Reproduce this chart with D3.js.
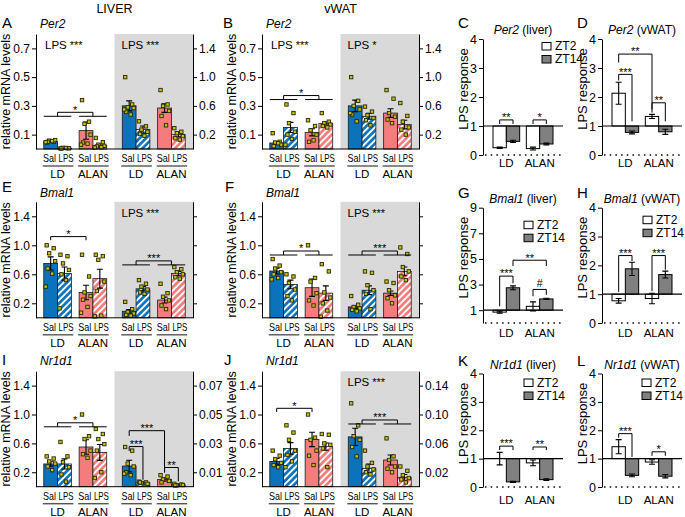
<!DOCTYPE html>
<html><head><meta charset="utf-8">
<script src="https://cdn.jsdelivr.net/npm/d3@7"></script>
<style>body{margin:0;background:#fff}svg{display:block}</style>
</head><body><svg id="c" width="685" height="517"></svg>
<script>
// ================= DATA =================
const groups = ["LD", "ALAN"];
const treatments = ["Sal", "LPS"];
const phases = ["ZT2", "ZT14"];

const per2LeftTicks = [0.1, 0.3, 0.5, 0.7];
const mrnaTicks = [0.2, 0.6, 1.0, 1.4];
const nr1d1LiverRightTicks = [0.01, 0.03, 0.05, 0.07];
const nr1d1VwatRightTicks = [0.02, 0.06, 0.10, 0.14];
const responseTicks = [0, 1, 2, 3, 4];
const bmal1LiverResponseTicks = [1, 3, 5, 7, 9];

// bar order: LD-Sal, LD-LPS, ALAN-Sal, ALAN-LPS
const A_zt2_mean = [0.053, 0.006, 0.128, 0.025];
const A_zt2_sem = [0.004, 0.001, 0.06, 0.01];
const A_zt2_dots = [[0.045,0.05,0.058,0.062,0.05,0.055,0.048],[0.004,0.006,0.008,0.005,0.003,0.007],[0.34,0.19,0.175,0.1,0.045,0.037,0.03],[0.077,0.047,0.03,0.022,0.018,0.012,0.01]];
const A_zt14_mean = [0.6, 0.27, 0.57, 0.2];
const A_zt14_sem = [0.07, 0.05, 0.06, 0.03];
const A_zt14_dots = [[1.0,0.62,0.58,0.57,0.52,0.48,0.55],[0.385,0.315,0.27,0.24,0.21,0.185],[0.82,0.62,0.6,0.53,0.46,0.33],[0.29,0.24,0.22,0.18,0.15,0.13]];

const B_zt2_mean = [0.042, 0.15, 0.116, 0.177];
const B_zt2_sem = [0.01, 0.035, 0.025, 0.01];
const B_zt2_dots = [[0.11,0.05,0.045,0.03,0.02,0.04],[0.31,0.25,0.18,0.12,0.1,0.07,0.03],[0.2,0.16,0.13,0.1,0.05,0.06],[0.25,0.19,0.18,0.17,0.16,0.15]];
const B_zt14_mean = [0.6, 0.455, 0.5, 0.34];
const B_zt14_sem = [0.08, 0.04, 0.06, 0.06];
const B_zt14_dots = [[1.0,0.67,0.6,0.55,0.48,0.385,0.5],[0.59,0.52,0.47,0.43,0.4,0.33],[0.82,0.7,0.5,0.45,0.41,0.36],[0.64,0.46,0.38,0.3,0.27,0.2]];

const E_zt2_mean = [0.75, 0.61, 0.35, 0.54];
const E_zt2_sem = [0.09, 0.09, 0.1, 0.13];
const E_zt2_dots = [[1.0,0.96,0.89,0.78,0.68,0.61,0.43],[0.87,0.85,0.75,0.66,0.6,0.52,0.13],[0.87,0.57,0.35,0.3,0.25,0.15,0.07],[0.87,0.85,0.8,0.5,0.37,0.03,0.02]];
const E_zt14_mean = [0.09, 0.4, 0.245, 0.61];
const E_zt14_sem = [0.025, 0.03, 0.04, 0.03];
const E_zt14_dots = [[0.22,0.12,0.08,0.06,0.04,0.03],[0.52,0.47,0.43,0.39,0.35,0.33],[0.47,0.34,0.29,0.24,0.17,0.12],[0.7,0.67,0.63,0.6,0.56,0.54]];

const F_zt2_mean = [0.645, 0.46, 0.415, 0.34];
const F_zt2_sem = [0.04, 0.06, 0.12, 0.1];
const F_zt2_dots = [[0.81,0.72,0.68,0.63,0.6,0.55,0.53],[0.6,0.57,0.48,0.39,0.3,0.24],[1.0,0.55,0.5,0.34,0.24,0.17],[0.74,0.64,0.35,0.28,0.2,0.1,0.015]];
const F_zt14_mean = [0.15, 0.38, 0.34, 0.64];
const F_zt14_sem = [0.02, 0.06, 0.03, 0.06];
const F_zt14_dots = [[0.3,0.18,0.15,0.13,0.11,0.09],[0.64,0.62,0.45,0.38,0.33,0.12],[0.5,0.48,0.38,0.31,0.27,0.2],[0.97,0.88,0.7,0.64,0.57,0.52]];

const I_zt2_mean = [0.315, 0.315, 0.55, 0.475];
const I_zt2_sem = [0.03, 0.07, 0.1, 0.11];
const I_zt2_dots = [[0.42,0.39,0.35,0.32,0.28,0.23],[0.62,0.42,0.34,0.27,0.17,0.07],[1.0,0.7,0.66,0.5,0.45,0.4],[0.8,0.73,0.66,0.59,0.5,0.2,0.12]];
const I_zt14_mean = [0.0143, 0.0028, 0.005, 0.0013];
const I_zt14_sem = [0.004, 0.0005, 0.001, 0.0004];
const I_zt14_dots = [[0.0275,0.025,0.016,0.014,0.01,0.008,0.009],[0.0035,0.003,0.0025,0.002,0.003],[0.008,0.007,0.005,0.004,0.003],[0.002,0.0015,0.001,0.0012,0.0008]];

const J_zt2_mean = [0.35, 0.53, 0.655, 0.555];
const J_zt2_sem = [0.04, 0.08, 0.1, 0.05];
const J_zt2_dots = [[0.5,0.43,0.38,0.33,0.3,0.27],[0.85,0.75,0.65,0.5,0.44,0.35,0.27],[1.0,0.68,0.65,0.5,0.43,0.3],[0.73,0.72,0.6,0.58,0.53,0.27]];
const J_zt14_mean = [0.069, 0.0255, 0.037, 0.013];
const J_zt14_sem = [0.012, 0.006, 0.007, 0.004];
const J_zt14_dots = [[0.1155,0.085,0.07,0.065,0.055,0.042],[0.05,0.033,0.028,0.024,0.02,0.017],[0.067,0.042,0.037,0.028,0.025,0.02],[0.028,0.022,0.016,0.012,0.01,0.006]];

// LPS response (order: LD, ALAN)
const C_zt2 = [0.25, 0.22], C_zt2_sem = [0.02, 0.05], C_zt14 = [0.47, 0.38], C_zt14_sem = [0.04, 0.03];
const D_zt2 = [2.13, 1.33], D_zt2_sem = [0.38, 0.07], D_zt14 = [0.78, 0.8], D_zt14_sem = [0.05, 0.09];
const G_zt2 = [0.85, 1.3], G_zt2_sem = [0.08, 0.35], G_zt14 = [2.75, 1.88], G_zt14_sem = [0.15, 0.05];
const H_zt2 = [0.77, 0.85], H_zt2_sem = [0.08, 0.18], H_zt14 = [1.88, 1.68], H_zt14_sem = [0.23, 0.12];
const K_zt2 = [1.0, 0.85], K_zt2_sem = [0.22, 0.1], K_zt14 = [0.18, 0.26], K_zt14_sem = [0.02, 0.03];
const L_zt2 = [1.42, 0.88], L_zt2_sem = [0.25, 0.08], L_zt14 = [0.41, 0.38], L_zt14_sem = [0.05, 0.06];

// ================= STYLE / LAYOUT =================
const FONT = "'Liberation Sans', Arial, Helvetica, sans-serif";
const BLUE = "#0b73bb", SALMON = "#f47c7c", GRAYBG = "#d9d9d9", ZT14C = "#808080";
const DOTFILL = "#c9c200", DOTSTROKE = "#262610";
const jitter = [-4, 3, -1.5, 4.5, -3, 1.5, -5, 2.5];
const rowsM = [{top: 34, bot: 149}, {top: 201.8, bot: 317.8}, {top: 371.2, bot: 486.7}];
const rowsR = [{top: 39, bot: 155}, {top: 207.7, bot: 323}, {top: 373.5, bot: 487}];
const letterBase = [28, 192, 365], geneBase = [28, 197, 365];
const respLabelOff = [12, 13.5, 17];

const svg = d3.select("#c").attr("font-family", FONT);
const defs = svg.append("defs");
[["hatchBlue", BLUE], ["hatchRed", SALMON]].forEach(([id, c]) => {
  const pat = defs.append("pattern").attr("id", id).attr("patternUnits", "userSpaceOnUse")
    .attr("width", 4.6).attr("height", 4.6).attr("patternTransform", "rotate(45)");
  pat.append("rect").attr("width", 4.6).attr("height", 4.6).attr("fill", c);
  pat.append("rect").attr("width", 1.9).attr("height", 4.6).attr("fill", "#fff");
});

function styleAxis(sel, fs, showLabels) {
  sel.attr("font-size", null).attr("font-family", null);
  sel.select(".domain").attr("stroke", "#000").attr("stroke-width", 1);
  sel.selectAll(".tick line").attr("stroke", "#000").attr("stroke-width", 1);
  sel.selectAll(".tick text").attr("font-size", fs).attr("fill", "#000").attr("font-family", FONT);
  if (!showLabels) sel.selectAll(".tick text").remove();
}
function text(g, x, y, s, fs, anchor) {
  return g.append("text").attr("x", x).attr("y", y).attr("font-size", fs)
    .attr("text-anchor", anchor || "start").attr("fill", "#000").text(s);
}
function starText(g, x, yLine, label) {
  const off = label === "#" ? -2.5 : 1.3;
  text(g, x, yLine + off, label, label === "#" ? 10.5 : 11, "middle");
}
function lpsLabel(g, x, y, stars) {
  const t = g.append("text").attr("x", x).attr("y", y).attr("font-size", 11.5).attr("fill", "#000");
  t.append("tspan").text("LPS");
  t.append("tspan").attr("dx", 3).attr("font-size", 11).text(stars);
}

// ================= mRNA PANELS =================
function mrnaPanel(p) {
  const r = rowsM[p.row], W = 157, half = W / 2, x0 = p.x;
  const g = svg.append("g");
  g.append("rect").attr("x", x0 + half).attr("y", r.top).attr("width", half).attr("height", r.bot - r.top).attr("fill", GRAYBG);
  const yL = d3.scaleLinear().domain([0, p.leftMax]).range([r.bot, r.top]);
  const yR = d3.scaleLinear().domain([0, p.rightMax]).range([r.bot, r.top]);
  const outer = d3.scaleBand().domain(groups).range([0, half]).paddingInner(0.22).paddingOuter(0.22);
  const inner = d3.scaleBand().domain(treatments).range([0, outer.bandwidth()]);
  const bw = inner.bandwidth();
  const sides = [
    {y: yL, mean: p.zt2[0], sem: p.zt2[1], dots: p.zt2[2]},
    {y: yR, mean: p.zt14[0], sem: p.zt14[1], dots: p.zt14[2]}
  ];
  const barX = (si, gi, ti) => x0 + si * half + outer(groups[gi]) + inner(treatments[ti]);
  sides.forEach((s, si) => {
    groups.forEach((gr, gi) => treatments.forEach((t, ti) => {
      const k = gi * 2 + ti, bx = barX(si, gi, ti), cx = bx + bw / 2, m = s.mean[k], e = s.sem[k];
      const fill = ti === 0 ? (gi === 0 ? BLUE : SALMON) : (gi === 0 ? "url(#hatchBlue)" : "url(#hatchRed)");
      g.append("rect").attr("x", bx).attr("y", s.y(m)).attr("width", bw).attr("height", r.bot - s.y(m))
        .attr("fill", fill).attr("stroke", "#1a1a1a").attr("stroke-width", 0.8);
      const y1 = s.y(m + e), y2 = s.y(Math.max(0, m - e));
      g.append("path").attr("d", `M${cx},${y1}V${y2}M${cx - 3},${y1}H${cx + 3}M${cx - 3},${y2}H${cx + 3}`)
        .attr("stroke", "#000").attr("stroke-width", 1.1).attr("fill", "none");
      s.dots[k].forEach((v, i) => {
        g.append("rect").attr("x", cx + jitter[i % jitter.length] - 1.7).attr("y", s.y(v) - 1.7)
          .attr("width", 3.4).attr("height", 3.4).attr("fill", DOTFILL).attr("stroke", DOTSTROKE).attr("stroke-width", 0.9);
      });
      text(g, cx + (ti === 0 ? -1.2 : 1.6), r.bot + 13, t, 11.5, "middle")
        .attr("textLength", ti === 0 ? 13 : 15).attr("lengthAdjust", "spacingAndGlyphs");
    }));
    groups.forEach((gr, gi) => {
      const gx = x0 + si * half + outer(gr);
      g.append("line").attr("x1", gx - 1).attr("x2", gx + outer.bandwidth() + 2).attr("y1", r.bot + 17).attr("y2", r.bot + 17)
        .attr("stroke", "#555").attr("stroke-width", 1.4);
      text(g, gx + outer.bandwidth() / 2, r.bot + 29, gr, 11.5, "middle");
    });
  });
  // axes
  g.append("line").attr("x1", x0).attr("x2", x0 + W).attr("y1", r.bot).attr("y2", r.bot).attr("stroke", "#000");
  g.append("g").attr("transform", `translate(${x0},0)`)
    .call(d3.axisLeft(yL).tickValues(p.leftTicks).tickSize(4).tickSizeOuter(0).tickPadding(2).tickFormat(d3.format(p.leftFmt)))
    .call(sel => styleAxis(sel, 12, true));
  g.append("g").attr("transform", `translate(${x0 + W},0)`)
    .call(d3.axisRight(yR).tickValues(p.rightTicks).tickSize(4).tickSizeOuter(0).tickPadding(2).tickFormat(d3.format(p.rightFmt)))
    .call(sel => styleAxis(sel, 12, p.rightLabels));
  // y label
  g.append("text").attr("transform", `translate(${x0 - 26},${(r.top + r.bot) / 2}) rotate(-90)`)
    .attr("text-anchor", "middle").attr("font-size", 12.5).text("relative mRNA levels");
  // letters / gene
  text(g, p.letterX, letterBase[p.row], p.letter, 15);
  text(g, x0 + 4, geneBase[p.row], p.gene, 12).attr("font-style", "italic");
  if (p.lpsL) lpsLabel(g, x0 + 9, r.top + 15, p.lpsL);
  if (p.lpsR) lpsLabel(g, x0 + half + 7, r.top + 15, p.lpsR);
  // significance
  (p.sigs || []).forEach(sg => {
    const y = sg.side === 0 ? yL : yR;
    if (sg.type === "grp") {
      const yl = y(sg.level);
      const cs = groups.map(gr => {
        const gx = x0 + sg.side * half + outer(gr);
        g.append("line").attr("x1", gx).attr("x2", gx + outer.bandwidth()).attr("y1", yl).attr("y2", yl).attr("stroke", "#000").attr("stroke-width", 1);
        return gx + outer.bandwidth() / 2;
      });
      g.append("path").attr("d", `M${cs[0]},${yl}V${yl - 4}H${cs[1]}V${yl}`).attr("stroke", "#000").attr("fill", "none");
      starText(g, (cs[0] + cs[1]) / 2, yl - 4, sg.label);
    } else {
      const ca = barX(sg.side, sg.a[0], sg.a[1]) + bw / 2, cb = barX(sg.side, sg.b[0], sg.b[1]) + bw / 2;
      g.append("path").attr("d", `M${ca},${y(sg.l)}V${y(sg.top)}H${cb}V${y(sg.r)}`).attr("stroke", "#000").attr("fill", "none");
      starText(g, (ca + cb) / 2, y(sg.top), sg.label);
    }
  });
}

// ================= LPS RESPONSE PANELS =================
function respPanel(p) {
  const r = rowsR[p.row], W = 80, x0 = p.x;
  const g = svg.append("g");
  const y = d3.scaleLinear().domain([0, p.max]).range([r.bot, r.top]);
  const outer = d3.scaleBand().domain(groups).range([x0, x0 + W]).paddingInner(0.2).paddingOuter(0.3);
  const inner = d3.scaleBand().domain(phases).range([0, outer.bandwidth()]);
  const bw = inner.bandwidth();
  const series = [{mean: p.zt2, sem: p.zt2sem, fill: "#fff"}, {mean: p.zt14, sem: p.zt14sem, fill: ZT14C}];
  g.append("line").attr("x1", x0 + 2).attr("x2", x0 + W).attr("y1", r.bot).attr("y2", r.bot)
    .attr("stroke", "#000").attr("stroke-width", 1.5).attr("stroke-dasharray", "1.5,4.2");
  const cx = (gi, si) => outer(groups[gi]) + inner(phases[si]) + bw / 2;
  groups.forEach((gr, gi) => series.forEach((s, si) => {
    const bx = outer(gr) + inner(phases[si]), m = s.mean[gi], e = s.sem[gi], c = bx + bw / 2;
    g.append("rect").attr("x", bx).attr("y", Math.min(y(m), y(1))).attr("width", bw)
      .attr("height", Math.abs(y(m) - y(1))).attr("fill", s.fill).attr("stroke", "#000").attr("stroke-width", 1);
    const y1 = y(m + e), y2 = y(m - e);
    g.append("path").attr("d", `M${c},${y1}V${y2}M${c - 3},${y1}H${c + 3}M${c - 3},${y2}H${c + 3}`)
      .attr("stroke", "#000").attr("stroke-width", 1.1).attr("fill", "none");
  }));
  g.append("line").attr("x1", x0).attr("x2", x0 + W).attr("y1", y(1)).attr("y2", y(1)).attr("stroke", "#000").attr("stroke-width", 1.2);
  g.append("g").attr("transform", `translate(${x0},0)`)
    .call(d3.axisLeft(y).tickValues(p.ticks).tickSize(4).tickSizeOuter(0).tickPadding(2).tickFormat(d3.format("d")))
    .call(sel => styleAxis(sel, 12.5, true));
  groups.forEach(gr => text(g, outer(gr) + outer.bandwidth() / 2, r.bot + respLabelOff[p.row], gr, 11.5, "middle"));
  g.append("text").attr("transform", `translate(${x0 - 15},${r.top + 50}) rotate(-90)`)
    .attr("text-anchor", "middle").attr("font-size", 13).text("LPS response");
  text(g, x0 - 25, letterBase[p.row] + (p.row === 1 ? 6 : p.row === 2 ? 1 : 0), p.letter, 15);
  const tt = g.append("text").attr("x", x0 + 40).attr("y", r.top - 5).attr("text-anchor", "middle").attr("font-size", 12);
  tt.append("tspan").attr("font-style", "italic").text(p.gene);
  tt.append("tspan").text(" (" + p.tissue + ")");
  if (p.legend) {
    phases.forEach((ph, i) => {
      const ly = r.top + p.legend.dy + i * 13;
      g.append("rect").attr("x", x0 + p.legend.dx).attr("y", ly - 3.5).attr("width", 9).attr("height", 7.5)
        .attr("fill", i === 0 ? "#fff" : ZT14C).attr("stroke", "#000").attr("stroke-width", 1);
      text(g, x0 + p.legend.dx + 13, ly + 4.3, ph, 12);
    });
  }
  (p.sigs || []).forEach(sg => {
    const ca = cx(sg.a[0], sg.a[1]), cb = cx(sg.b[0], sg.b[1]);
    g.append("path").attr("d", `M${ca},${y(sg.l)}V${y(sg.top)}H${cb}V${y(sg.r)}`).attr("stroke", "#000").attr("fill", "none");
    starText(g, (ca + cb) / 2, y(sg.top), sg.label);
  });
}

// ================= TITLES =================
text(svg, 114.5, 13, "LIVER", 12.5, "middle");
text(svg, 340.5, 13, "vWAT", 12.5, "middle");

// ================= BUILD =================
mrnaPanel({x: 36, row: 0, letter: "A", letterX: 2, gene: "Per2", leftMax: 0.8, leftTicks: per2LeftTicks, leftFmt: ".1f",
  rightMax: 1.6, rightTicks: mrnaTicks, rightFmt: ".1f", rightLabels: true,
  zt2: [A_zt2_mean, A_zt2_sem, A_zt2_dots], zt14: [A_zt14_mean, A_zt14_sem, A_zt14_dots], lpsL: "***", lpsR: "***",
  sigs: [{type: "grp", side: 0, level: 0.2275, label: "*"}]});
mrnaPanel({x: 262, row: 0, letter: "B", letterX: 223, gene: "Per2", leftMax: 0.8, leftTicks: per2LeftTicks, leftFmt: ".1f",
  rightMax: 1.6, rightTicks: mrnaTicks, rightFmt: ".1f", rightLabels: true,
  zt2: [B_zt2_mean, B_zt2_sem, B_zt2_dots], zt14: [B_zt14_mean, B_zt14_sem, B_zt14_dots], lpsL: "***", lpsR: "*",
  sigs: [{type: "grp", side: 0, level: 0.344, label: "*"}]});
mrnaPanel({x: 36, row: 1, letter: "E", letterX: 2, gene: "Bmal1", leftMax: 1.6, leftTicks: mrnaTicks, leftFmt: ".1f",
  rightMax: 1.6, rightTicks: mrnaTicks, rightFmt: ".1f", rightLabels: false,
  zt2: [E_zt2_mean, E_zt2_sem, E_zt2_dots], zt14: [E_zt14_mean, E_zt14_sem, E_zt14_dots], lpsR: "***",
  sigs: [{type: "pair", side: 0, a: [0, 0], b: [1, 0], top: 1.12, l: 1.07, r: 1.07, label: "*"},
         {type: "grp", side: 1, level: 0.73, label: "***"}]});
mrnaPanel({x: 262, row: 1, letter: "F", letterX: 225, gene: "Bmal1", leftMax: 1.6, leftTicks: mrnaTicks, leftFmt: ".1f",
  rightMax: 1.6, rightTicks: mrnaTicks, rightFmt: ".1f", rightLabels: false,
  zt2: [F_zt2_mean, F_zt2_sem, F_zt2_dots], zt14: [F_zt14_mean, F_zt14_sem, F_zt14_dots], lpsR: "***",
  sigs: [{type: "grp", side: 0, level: 0.866, label: "*"}, {type: "grp", side: 1, level: 0.866, label: "***"}]});
mrnaPanel({x: 36, row: 2, letter: "I", letterX: 2, gene: "Nr1d1", leftMax: 1.6, leftTicks: mrnaTicks, leftFmt: ".1f",
  rightMax: 0.08, rightTicks: nr1d1LiverRightTicks, rightFmt: ".2f", rightLabels: true,
  zt2: [I_zt2_mean, I_zt2_sem, I_zt2_dots], zt14: [I_zt14_mean, I_zt14_sem, I_zt14_dots],
  sigs: [{type: "grp", side: 0, level: 0.83, label: "*"},
         {type: "pair", side: 1, a: [0, 0], b: [0, 1], top: 0.0278, l: 0.0248, r: 0.0048, label: "***"},
         {type: "pair", side: 1, a: [0, 0], b: [1, 0], top: 0.0388, l: 0.0352, r: 0.0103, label: "***"},
         {type: "pair", side: 1, a: [1, 0], b: [1, 1], top: 0.0133, l: 0.0097, r: 0.0037, label: "**"}]});
mrnaPanel({x: 262, row: 2, letter: "J", letterX: 224, gene: "Nr1d1", leftMax: 1.6, leftTicks: mrnaTicks, leftFmt: ".1f",
  rightMax: 0.16, rightTicks: nr1d1VwatRightTicks, rightFmt: ".2f", rightLabels: true,
  zt2: [J_zt2_mean, J_zt2_sem, J_zt2_dots], zt14: [J_zt14_mean, J_zt14_sem, J_zt14_dots], lpsR: "***",
  sigs: [{type: "pair", side: 0, a: [0, 0], b: [1, 0], top: 1.086, l: 1.035, r: 1.035, label: "*"},
         {type: "grp", side: 1, level: 0.0869, label: "***"}]});

respPanel({x: 483, row: 0, letter: "C", gene: "Per2", tissue: "liver", max: 4, ticks: responseTicks,
  zt2: C_zt2, zt2sem: C_zt2_sem, zt14: C_zt14, zt14sem: C_zt14_sem, legend: {dx: 59, dy: 7},
  sigs: [{a: [0, 0], b: [0, 1], top: 1.21, l: 1.07, r: 1.07, label: "**"},
         {a: [1, 0], b: [1, 1], top: 1.21, l: 1.07, r: 1.07, label: "*"}]});
respPanel({x: 602, row: 0, letter: "D", gene: "Per2", tissue: "vWAT", max: 4, ticks: responseTicks,
  zt2: D_zt2, zt2sem: D_zt2_sem, zt14: D_zt14, zt14sem: D_zt14_sem,
  sigs: [{a: [0, 0], b: [0, 1], top: 2.78, l: 2.57, r: 1.16, label: "***"},
         {a: [1, 0], b: [1, 1], top: 1.8, l: 1.46, r: 1.16, label: "**"},
         {a: [0, 0], b: [1, 0], top: 3.48, l: 3.19, r: 1.57, label: "**"}]});
respPanel({x: 483, row: 1, letter: "G", gene: "Bmal1", tissue: "liver", max: 9, ticks: bmal1LiverResponseTicks,
  zt2: G_zt2, zt2sem: G_zt2_sem, zt14: G_zt14, zt14sem: G_zt14_sem, legend: {dx: 41, dy: 17},
  sigs: [{a: [0, 0], b: [0, 1], top: 3.66, l: 1.3, r: 3.1, label: "***"},
         {a: [1, 0], b: [1, 1], top: 2.62, l: 2.09, r: 2.2, label: "#"},
         {a: [0, 1], b: [1, 1], top: 4.9, l: 4.45, r: 4.45, label: "**"}]});
respPanel({x: 602, row: 1, letter: "H", gene: "Bmal1", tissue: "vWAT", max: 4, ticks: responseTicks,
  zt2: H_zt2, zt2sem: H_zt2_sem, zt14: H_zt14, zt14sem: H_zt14_sem, legend: {dx: 41, dy: 12},
  sigs: [{a: [0, 0], b: [0, 1], top: 2.34, l: 1.08, r: 2.15, label: "***"},
         {a: [1, 0], b: [1, 1], top: 2.34, l: 1.1, r: 1.85, label: "***"}]});
respPanel({x: 483, row: 2, letter: "K", gene: "Nr1d1", tissue: "liver", max: 4, ticks: responseTicks,
  zt2: K_zt2, zt2sem: K_zt2_sem, zt14: K_zt14, zt14sem: K_zt14_sem, legend: {dx: 41, dy: 9},
  sigs: [{a: [0, 0], b: [0, 1], top: 1.44, l: 1.3, r: 1.3, label: "***"},
         {a: [1, 0], b: [1, 1], top: 1.41, l: 1.3, r: 1.3, label: "**"}]});
respPanel({x: 602, row: 2, letter: "L", gene: "Nr1d1", tissue: "vWAT", max: 4, ticks: responseTicks,
  zt2: L_zt2, zt2sem: L_zt2_sem, zt14: L_zt14, zt14sem: L_zt14_sem, legend: {dx: 40, dy: 9},
  sigs: [{a: [0, 0], b: [0, 1], top: 1.88, l: 1.74, r: 1.06, label: "***"},
         {a: [1, 0], b: [1, 1], top: 1.24, l: 1.1, r: 1.1, label: "*"}]});
</script></body></html>
